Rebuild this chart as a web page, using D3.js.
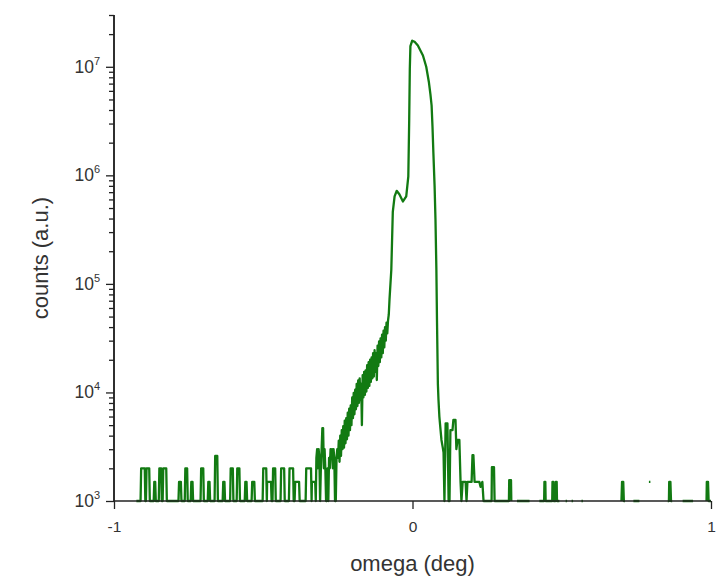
<!DOCTYPE html>
<html><head><meta charset="utf-8">
<script src="https://cdn.jsdelivr.net/npm/d3@7"></script>
<style>body{margin:0;background:#fff}svg{display:block}</style>
</head><body>
<svg id="chart" width="720" height="577"></svg>
<script>
// ---------- data ----------
// left background noise (omega in deg, counts); 0 = no counts (not drawn on log axis)
const leftOmega = [-0.925,-0.911,-0.909,-0.897,-0.895,-0.893,-0.891,-0.882,-0.880,-0.867,-0.865,-0.862,-0.860,-0.850,-0.848,-0.842,-0.840,-0.837,-0.835,-0.825,-0.823,
  -0.784,-0.782,-0.776,-0.774,-0.763,-0.761,-0.755,-0.753,-0.743,-0.741,-0.737,-0.735,-0.710,-0.708,-0.701,-0.699,-0.686,-0.684,-0.680,-0.678,
  -0.663,-0.661,-0.654,-0.652,-0.636,-0.634,-0.630,-0.628,-0.611,-0.609,-0.602,-0.600,-0.589,-0.587,-0.580,-0.578,-0.562,-0.560,-0.556,-0.554,
  -0.539,-0.537,-0.530,-0.528,-0.502,-0.500,-0.490,-0.488,-0.487,-0.474,-0.472,-0.469,-0.467,-0.460,-0.458,-0.442,-0.440,-0.430,-0.428,
  -0.414,-0.412,-0.400,-0.398,-0.395,-0.393,-0.380,-0.378,-0.358,-0.356,-0.340,-0.338,-0.337,-0.326,-0.324];
const leftCounts = [1000,1000,2000,2000,1000,1000,2000,2000,1000,1000,1500,1500,1000,1000,2000,2000,1000,1000,2000,2000,1000,
  1000,1500,1500,1000,1000,2000,2000,1000,1000,1500,1500,1000,1000,2000,2000,1000,1000,1500,1500,1000,
  1000,2600,2600,1000,1000,1500,1500,1000,1000,2000,2000,1000,1000,2000,2000,1000,1000,1500,1500,1000,
  1000,1500,1500,1000,1000,2000,2000,1000,1500,1500,1000,1000,2000,2000,1000,1000,2000,2000,1000,
  1000,2000,2000,1000,1000,1500,1500,1000,1000,2000,2000,1000,1500,1500,1000];

// rising diffuse tail on the low-angle side (noisy)
const riseOmega = [-0.322,-0.3195,-0.317,-0.3145,-0.312,-0.3095,-0.307,-0.3045,-0.302,-0.2995,-0.297,-0.2945,-0.292,-0.2895,-0.287,-0.2845,
  -0.282,-0.2795,-0.277,-0.2745,-0.272,-0.2695,-0.267,-0.2645,-0.262,-0.2595,-0.257,-0.2545,-0.252,-0.2495,-0.247,-0.2445,
  -0.242,-0.2395,-0.237,-0.2345,-0.232,-0.2295,-0.227,-0.2245,-0.222,-0.2195,-0.217,-0.2145,-0.212,-0.2095,-0.207,-0.2045,
  -0.202,-0.1995,-0.197,-0.1945,-0.192,-0.1895,-0.187,-0.1845,-0.182,-0.1795,-0.177,-0.1745,-0.172,-0.1695,-0.167,-0.1645,
  -0.162,-0.1595,-0.157,-0.1545,-0.152,-0.1495,-0.147,-0.1445,-0.142,-0.1395,-0.137,-0.1345,-0.132,-0.1295,-0.127,-0.1245,
  -0.122,-0.1195,-0.117,-0.1145,-0.112,-0.1095,-0.107,-0.1045,-0.102,-0.0995,-0.097,-0.0945,-0.092,-0.0895,-0.087,-0.0845,
  -0.082,-0.0795];
const riseCounts = [2500,3000,2000,3000,2500,1000,2000,3000,4700,4700,2000,3000,2000,1000,1000,2000,
  1000,2500,2000,3000,2500,3000,2000,3000,2500,1000,1000,2500,3000,2500,3600,2300,
  4000,2600,4500,3000,4900,3100,5500,3400,5800,3700,6500,4000,7100,4500,7600,5000,
  9000,5800,9900,6300,10600,7000,12000,7500,12900,8000,13500,8500,12000,5000,14400,9000,
  15500,9500,16000,10200,17800,11000,19000,11500,20000,12500,21000,13500,23000,14000,24500,15500,
  23000,13000,27000,17500,29500,19000,31500,21000,34000,23000,37000,26000,40000,30000,44000,35000,
  46000,52000];

// main peak with shoulder
const peakOmega = [-0.077,-0.071,-0.066,-0.060,-0.053,-0.044,-0.032,-0.021,-0.014,-0.011,-0.009,-0.007,-0.001,0.007,0.018,0.035,0.046,0.055,
  0.060,0.064,0.067,0.070,0.074,0.077,0.080,0.082,0.085,0.087,0.090,0.094,0.097,0.101,0.104];
const peakCounts = [72000,135000,460000,640000,720000,670000,575000,640000,980000,3300000,9600000,15500000,17400000,17000000,15700000,12700000,10000000,7200000,
  5600000,4400000,2800000,1600000,800000,390000,135000,47000,12000,8600,6000,4500,3650,3150,2800];

// high-angle background noise
const rightOmega = [0.107,0.111,0.117,0.121,0.124,0.127,0.134,0.137,0.144,0.147,0.151,0.157,0.161,0.164,0.168,0.178,0.181,0.184,0.198,0.201,0.204,0.208,
  0.224,0.228,0.234,0.238,0.265,0.266,0.273,0.275,0.323,0.324,0.330,0.331,0.338,0.350,0.392,0.400,0.425,0.441,0.442,0.445,0.446,
  0.468,0.469,0.472,0.473,0.479,0.480,0.483,0.484,0.492,0.500,0.513,0.518,0.521,0.533,0.538,0.541,0.566,0.571,0.575,0.613,
  0.700,0.702,0.706,0.708,0.712,0.716,0.740,0.760,0.765,0.790,0.792,0.797,0.800,0.855,0.859,0.860,0.864,0.866,0.870,0.878,
  0.905,0.940,0.945,0.980,0.985,0.986,0.990,0.992,1.000];
const rightCounts = [1000,5200,5200,1000,1000,4500,4500,5600,5600,3000,3650,3650,1500,1000,1500,1500,1000,1500,1500,2650,2650,1500,
  1500,1350,1500,1000,1000,2050,2050,1000,1000,1560,1560,1000,0,1000,1000,0,1000,1000,1500,1500,1000,
  1000,1500,1500,1000,1000,1500,1500,1000,1000,0,1000,1000,0,1000,1000,0,1000,1000,0,0,
  1000,1500,1500,1000,1000,0,1000,1000,0,0,1500,1500,0,1000,1000,1500,1500,1000,1000,0,
  1000,1000,0,0,1000,1500,1500,1000,1000];

const xTickValues = [-1, 0, 1];
const xTickLabels = ["-1", "0", "1"];
const yMajorTicks = [1e3, 1e4, 1e5, 1e6, 1e7];
const yTickBases = ["10", "10", "10", "10", "10"];
const yTickExponents = ["3", "4", "5", "6", "7"];
const xTitle = "omega (deg)";
const yTitle = "counts (a.u.)";

// ---------- chart ----------
const omega = [].concat(leftOmega, riseOmega, peakOmega, rightOmega);
const counts = [].concat(leftCounts, riseCounts, peakCounts, rightCounts);
const data = omega.map((o, i) => ({o, c: counts[i]}));

const W = 720, H = 577;
const plot = {left: 114, right: 711, top: 15, bottom: 501};
const font = "'Liberation Sans', Arial, Helvetica, sans-serif";
const textColor = "#333";
const axisColor = "#222";
const lineColor = "#127a12";

const svg = d3.select("#chart");
svg.append("rect").attr("width", W).attr("height", H).attr("fill", "#fff");

const x = d3.scaleLinear().domain([-1, 1]).range([plot.left, plot.right]);
const y = d3.scaleLog().domain([1000, 3e7]).range([plot.bottom, plot.top]);

// data line
const line = d3.line()
  .defined(d => d.c > 0)
  .x(d => x(d.o))
  .y(d => y(d.c));

svg.append("path")
  .datum(data)
  .attr("d", line)
  .attr("fill", "none")
  .attr("stroke", lineColor)
  .attr("stroke-width", 2.3)
  .attr("stroke-linejoin", "round");

// y axis: minor + major ticks
const allTicks = y.ticks();
const minorTicks = allTicks.filter(v => !yMajorTicks.includes(v));
const yMinor = svg.append("g").attr("transform", `translate(${plot.left},0)`)
  .call(d3.axisLeft(y).tickValues(minorTicks).tickSize(5).tickFormat(""));
const yMajor = svg.append("g").attr("transform", `translate(${plot.left},0)`)
  .call(d3.axisLeft(y).tickValues(yMajorTicks).tickSize(8).tickFormat(""));
[yMinor, yMajor].forEach(g => {
  g.select(".domain").attr("stroke", axisColor).attr("stroke-width", 1.5)
    .attr("d", `M0,${y(3e7)}V${y(1000)}`);
  g.selectAll(".tick line").attr("stroke", axisColor).attr("stroke-width", 1.3);
});

// y tick labels with superscripts
const yLab = svg.append("g").attr("font-family", font).attr("fill", textColor);
yMajorTicks.forEach((v, i) => {
  const t = yLab.append("text")
    .attr("x", plot.left - 14)
    .attr("y", y(v) + 6)
    .attr("text-anchor", "end")
    .attr("font-size", 17.5);
  t.append("tspan").text(yTickBases[i]);
  t.append("tspan").attr("font-size", 11).attr("dy", -8).text(yTickExponents[i]);
});

// x axis
const xAxis = svg.append("g").attr("transform", `translate(0,${plot.bottom})`)
  .call(d3.axisBottom(x).tickValues(xTickValues).tickSize(8)
    .tickFormat((d, i) => xTickLabels[i]));
xAxis.select(".domain").attr("stroke", axisColor).attr("stroke-width", 1.5)
  .attr("d", `M${plot.left},0H${plot.right}`);
xAxis.selectAll(".tick line").attr("stroke", axisColor).attr("stroke-width", 1.3);
xAxis.selectAll(".tick text").attr("font-family", font).attr("font-size", 15.5)
  .attr("fill", textColor).attr("dy", "1.3em");

// titles
svg.append("text")
  .attr("x", (plot.left + plot.right) / 2)
  .attr("y", 571)
  .attr("text-anchor", "middle")
  .attr("font-family", font).attr("font-size", 22).attr("fill", textColor)
  .text(xTitle);
svg.append("text")
  .attr("transform", `translate(48,${(plot.top + plot.bottom) / 2}) rotate(-90)`)
  .attr("text-anchor", "middle")
  .attr("font-family", font).attr("font-size", 22).attr("fill", textColor)
  .text(yTitle);
</script>
</body></html>
